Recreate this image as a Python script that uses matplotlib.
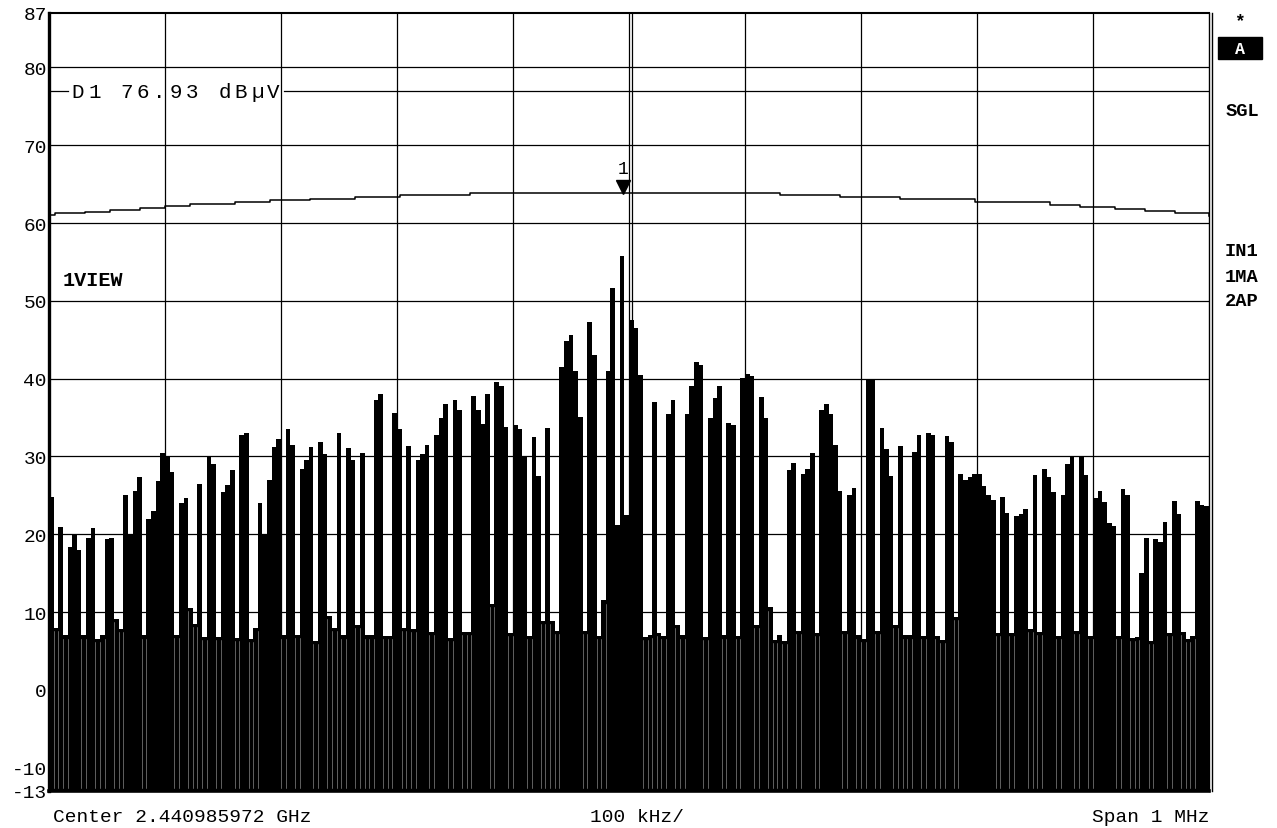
import matplotlib.pyplot as plt
import numpy as np
from matplotlib.patches import Rectangle

plt.rcParams['font.family'] = ['Liberation Mono', 'DejaVu Sans Mono']

# trace 1 (dBuV), 4 kHz per point, one list per 100 kHz division
div0 = [24.8, 8, 20.9, 7, 18.3, 19.9, 18, 7, 19.5, 20.8, 6.5, 7, 19.4, 19.5, 9.1,
        7.8, 25, 20, 25.5, 27.3, 7, 22, 23, 26.8, 30.5]
div1 = [30.1, 28, 7.1, 24, 24.6, 10.5, 8.5, 26.5, 6.8, 30, 29, 6.8, 25.4, 26.3, 28.2,
        6.7, 32.8, 33, 6.5, 8, 24, 20, 27, 31.2, 32.3]
div2 = [7, 33.5, 31.5, 7.1, 28.4, 29.5, 31.2, 6.3, 31.9, 30.3, 9.5, 8, 33, 7, 31.1,
        29.6, 8.3, 30.4, 7, 7, 37.3, 38, 6.9, 6.9, 35.6]
div3 = [33.5, 8, 31.3, 7.8, 29.5, 30.3, 31.5, 7.4, 32.8, 35, 36.8, 6.7, 37.2, 36, 7.4,
        7.4, 37.8, 36, 34.2, 38, 11, 39.6, 39, 33.8, 7.3]
div4 = [34, 33.5, 30.1, 6.9, 32.5, 27.5, 8.9, 33.6, 8.9, 7.6, 41.5, 44.8, 45.6, 41, 35.1,
        7.6, 47.3, 43, 6.9, 11.5, 41, 51.6, 21.2, 55.8, 22.5]
div5 = [47.5, 46.5, 40.5, 6.8, 7.1, 37, 7.3, 6.9, 35.5, 37.2, 8.3, 7, 35.5, 39, 42.1,
        41.7, 6.8, 34.9, 37.5, 39.1, 7, 34.3, 34, 6.9, 40.1]
div6 = [40.6, 40.4, 8.4, 37.7, 35, 10.6, 6.4, 7.1, 6.3, 28.3, 29.1, 7.6, 27.8, 28.4, 30.5,
        7.3, 36, 36.7, 35.5, 31.5, 25.6, 7.6, 25, 26, 7]
div7 = [6.5, 40, 40, 7.6, 33.7, 31, 27.5, 8.3, 31.3, 7, 7, 30.6, 32.7, 6.9, 33, 32.8,
        6.9, 6.4, 32.6, 31.9, 9.4, 27.8, 27, 27.3, 27.7]
div8 = [27.8, 26.2, 25, 24.4, 7.3, 24.8, 22.7, 7.3, 22.4, 22.6, 23.3, 7.8, 27.6, 7.4, 28.4,
        27.3, 25.4, 6.9, 25, 29, 29.9, 7.6, 30, 27.6, 6.9]
div9 = [24.6, 25.6, 24.1, 21.5, 21.1, 6.9, 25.8, 25, 6.7, 6.8, 15, 19.5, 6.3, 19.4, 19,
        21.6, 7.3, 24.3, 22.6, 7.5, 6.5, 6.9, 24.3, 23.8, 23.6]

# trace 2 (max hold), step points
hold_khz = [-500, -494.8, -469, -447.4, -421.6, -400, -378.4, -339.7, -309.5, -275,
            -236.2, -197.4, -137, 130.2, 181.9, 233.6, 298.3, 362.9, 388.8, 419,
            444.8, 470.7, 500]
hold_db = [61.1, 61.3, 61.4, 61.7, 62.0, 62.2, 62.5, 62.7, 63.0, 63.1,
           63.3, 63.6, 63.9, 63.6, 63.4, 63.1, 62.7, 62.3, 62.1, 61.8,
           61.5, 61.3, 60.9]

marker_khz = -5
marker_db = 63.9
d1_db = 76.93
y_ticks = [87, 80, 70, 60, 50, 40, 30, 20, 10, 0, -10, -13]

W, H = 1277, 829
fig = plt.figure(figsize=(W / 100, H / 100), dpi=100)
ax = fig.add_axes([49 / W, 1 - 792 / H, 1160 / W, 778 / H])
ax.set_xlim(-500, 500)
ax.set_ylim(-13, 87)

# grid
for f in range(-400, 500, 100):
    ax.axvline(f, color='black', lw=0.9, zorder=1)
ax.axvline(2.2, color='black', lw=0.9, zorder=1)
for lv in range(-10, 81, 10):
    ax.axhline(lv, color='black', lw=0.9, zorder=1)

# trace 1, filled down to the bottom
trace1 = div0 + div1 + div2 + div3 + div4 + div5 + div6 + div7 + div8 + div9
edges = np.linspace(-500, 500, len(trace1) + 1)
ax.stairs(trace1, edges, baseline=-13, fill=True, color='black', zorder=2)
# thin gaps between noise points
for i in range(1, len(trace1)):
    lo = min(trace1[i - 1], trace1[i])
    if lo < 12:
        ax.plot([edges[i], edges[i]], [-12.6, lo - 0.4], color='#a8a8a8', lw=0.4, zorder=3)

# trace 2
ax.step(hold_khz, hold_db, where='post', color='black', lw=1.1, zorder=3)

# marker 1
ax.plot(marker_khz, marker_db + 0.7, marker='v', color='black', markersize=10, zorder=4)
ax.text(marker_khz, marker_db + 2.0, '1', ha='center', va='bottom', fontsize=13, zorder=4)

# display line D1 with its label
ax.plot([-500, -483.6], [d1_db, d1_db], color='black', lw=0.9, zorder=3)
ax.plot([-297.4, 500], [d1_db, d1_db], color='black', lw=0.9, zorder=3)
label = 'D1 76.93 dB\u00b5V'
for i, ch in enumerate(label):
    fig.text((70 + 16.3 * i + 8) / W, 1 - 92 / H, ch, ha='center', va='center',
             fontsize=15)

ax.text(-488, 52.8, '1VIEW', ha='left', va='center', fontsize=14.5, fontweight='bold')

# axes frame
ax.set_xticks([])
ax.set_yticks(y_ticks)
ax.set_yticklabels([str(v) for v in y_ticks])
ax.tick_params(axis='y', length=0, pad=1.5, labelsize=14)
ax.spines['left'].set_linewidth(2.4)
ax.spines['top'].set_linewidth(1.5)
ax.spines['bottom'].set_linewidth(2.6)
ax.spines['right'].set_linewidth(1.0)
fig.add_artist(plt.Line2D([1211.5 / W, 1211.5 / W], [1 - 792 / H, 1 - 14 / H],
                          color='black', lw=1.0))

# side annotations
fig.text(1240 / W, 1 - 22 / H, '*', ha='center', va='center', fontsize=13, fontweight='bold')
fig.add_artist(Rectangle((1218 / W, 1 - 60 / H), 44 / W, 22 / H, color='black'))
fig.text(1240 / W, 1 - 49 / H, 'A', ha='center', va='center', fontsize=12,
         fontweight='bold', color='white')
for txt, yp in [('SGL', 112), ('IN1', 252), ('1MA', 277), ('2AP', 302)]:
    fig.text(1242 / W, 1 - yp / H, txt, ha='center', va='center', fontsize=13.5,
             fontweight='bold')

# bottom annotations
fig.text(53 / W, 1 - 818 / H, 'Center 2.440985972 GHz', ha='left', va='center', fontsize=14)
fig.text(637 / W, 1 - 818 / H, '100 kHz/', ha='center', va='center', fontsize=14)
fig.text(1209 / W, 1 - 818 / H, 'Span 1 MHz', ha='right', va='center', fontsize=14)

fig.savefig('out.png', dpi=100)
